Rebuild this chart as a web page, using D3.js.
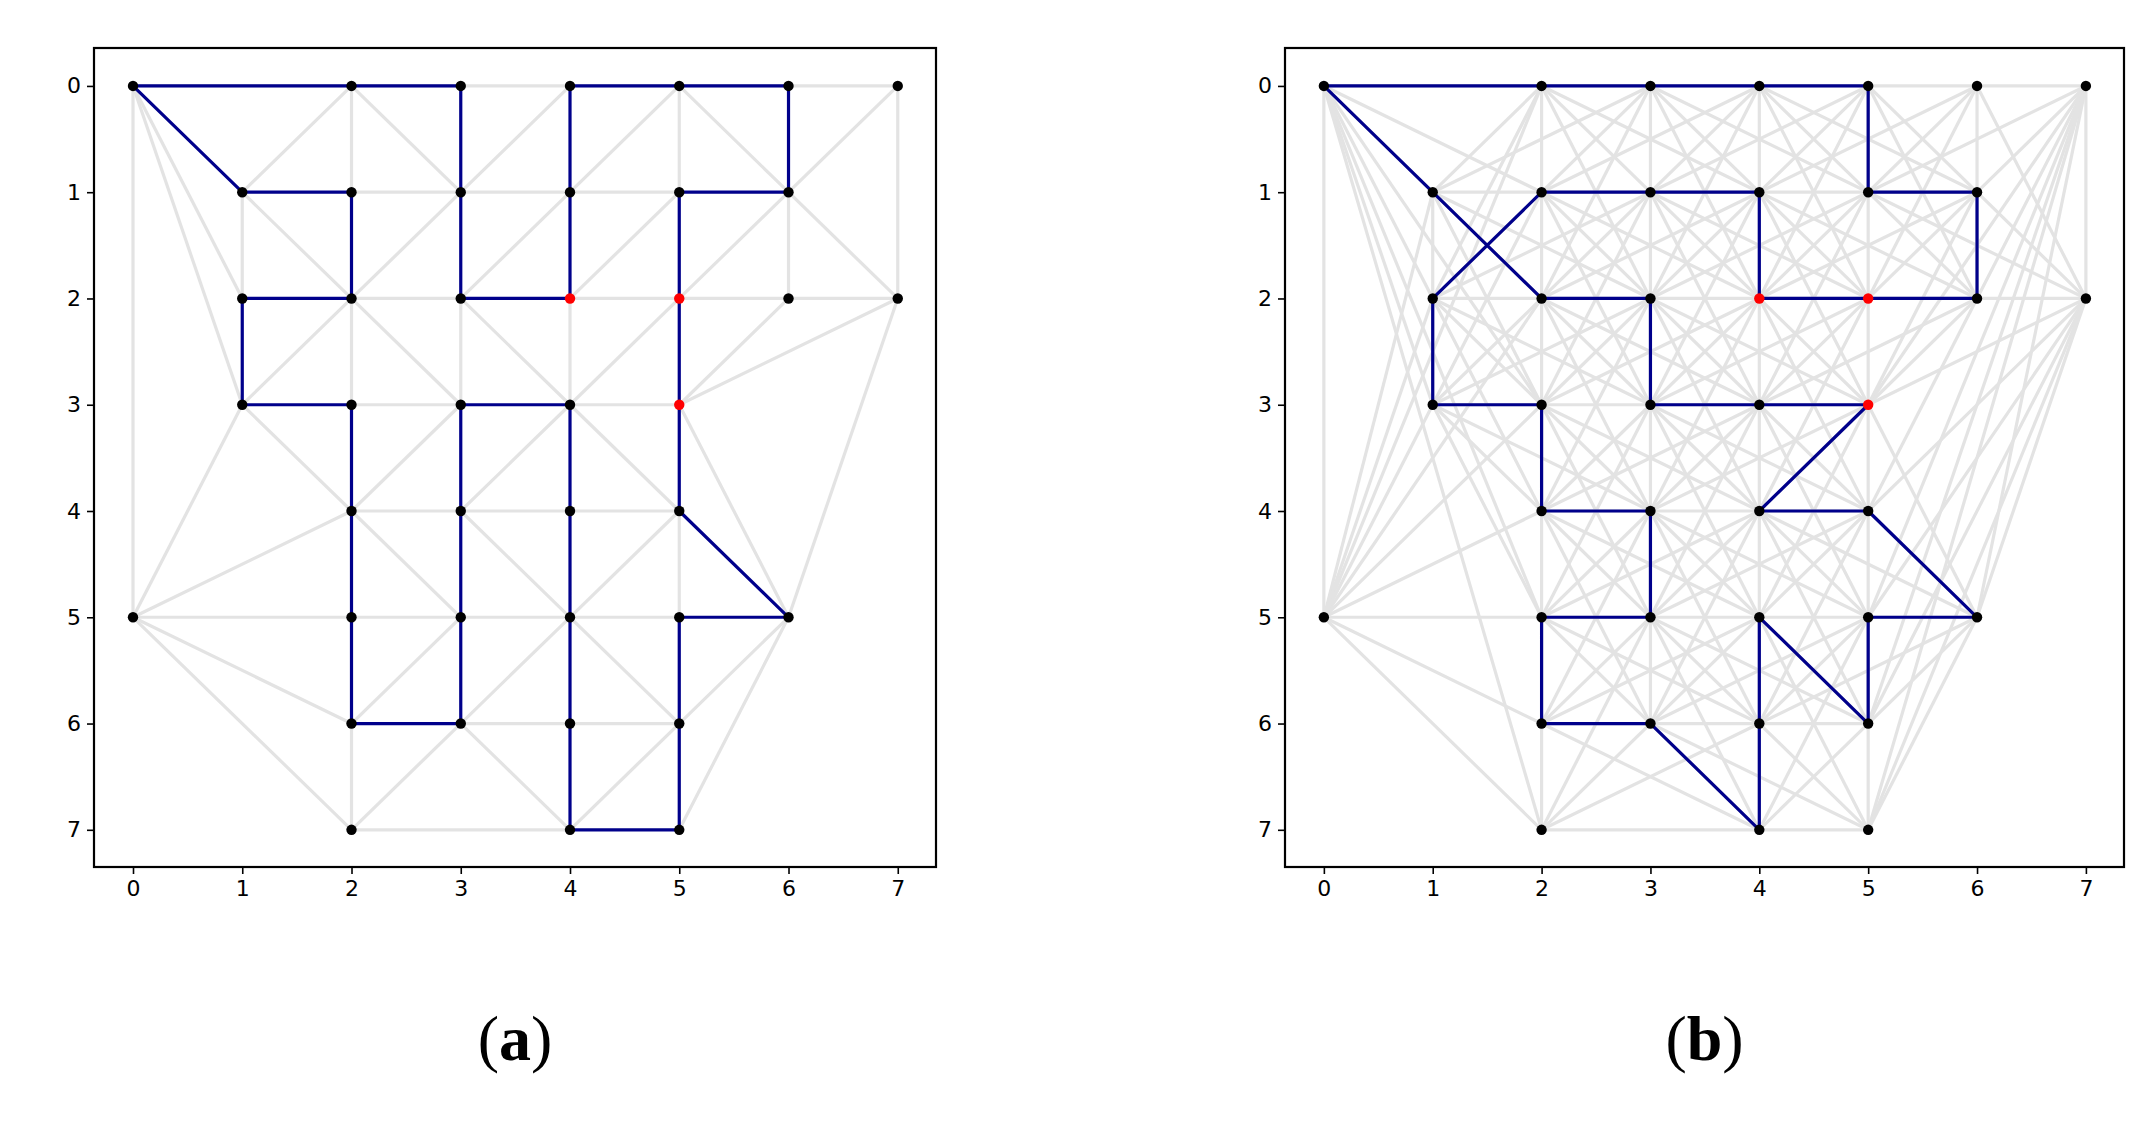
<!DOCTYPE html>
<html><head><meta charset="utf-8">
<script src="https://cdn.jsdelivr.net/npm/d3@7"></script>
<style>body{margin:0;background:#fff}</style></head>
<body><svg id="c" width="2155" height="1144"></svg>
<script>
const nodes = [[0,0],[2,0],[3,0],[4,0],[5,0],[6,0],[7,0],
 [1,1],[2,1],[3,1],[4,1],[5,1],[6,1],
 [1,2],[2,2],[3,2],[4,2],[5,2],[6,2],[7,2],
 [1,3],[2,3],[3,3],[4,3],[5,3],
 [2,4],[3,4],[4,4],[5,4],
 [0,5],[2,5],[3,5],[4,5],[5,5],[6,5],
 [2,6],[3,6],[4,6],[5,6],
 [2,7],[4,7],[5,7]];
const redNodes = [[4,2],[5,2],[5,3]];
const grayA = [
 [[0,0],[2,0]],[[2,0],[3,0]],[[3,0],[4,0]],[[4,0],[5,0]],[[5,0],[6,0]],[[6,0],[7,0]],
 [[0,0],[0,5]],[[0,0],[1,2]],[[0,0],[1,3]],
 [[2,0],[1,1]],[[2,0],[2,1]],[[2,0],[3,1]],[[4,0],[3,1]],[[5,0],[4,1]],[[5,0],[5,1]],[[5,0],[6,1]],
 [[7,0],[6,1]],[[7,0],[7,2]],
 [[1,1],[1,2]],[[1,1],[2,2]],[[2,1],[3,1]],[[3,1],[4,1]],[[4,1],[5,1]],[[3,1],[2,2]],[[4,1],[3,2]],
 [[5,1],[4,2]],[[6,1],[5,2]],[[6,1],[6,2]],[[6,1],[7,2]],
 [[2,2],[3,2]],[[4,2],[5,2]],[[5,2],[6,2]],[[6,2],[7,2]],[[2,2],[1,3]],[[2,2],[2,3]],[[2,2],[3,3]],
 [[3,2],[3,3]],[[3,2],[4,3]],[[4,2],[4,3]],[[5,2],[4,3]],[[6,2],[5,3]],[[7,2],[5,3]],[[7,2],[6,5]],
 [[2,3],[3,3]],[[4,3],[5,3]],[[1,3],[2,4]],[[1,3],[0,5]],[[3,3],[2,4]],[[4,3],[3,4]],[[4,3],[5,4]],[[5,3],[6,5]],
 [[2,4],[3,4]],[[3,4],[4,4]],[[4,4],[5,4]],[[2,4],[0,5]],[[2,4],[3,5]],[[3,4],[4,5]],[[5,4],[4,5]],[[5,4],[5,5]],
 [[0,5],[2,5]],[[2,5],[3,5]],[[3,5],[4,5]],[[4,5],[5,5]],[[0,5],[2,6]],[[0,5],[2,7]],[[3,5],[2,6]],
 [[4,5],[3,6]],[[4,5],[5,6]],[[6,5],[5,6]],[[6,5],[5,7]],
 [[3,6],[4,6]],[[4,6],[5,6]],[[2,6],[2,7]],[[3,6],[2,7]],[[3,6],[4,7]],[[5,6],[4,7]],
 [[2,7],[4,7]]];
const pathA = [[4,2],[3,2],[3,0],[0,0],[1,1],[2,1],[2,2],[1,2],[1,3],[2,3],[2,6],[3,6],[3,3],[4,3],[4,7],[5,7],[5,5],[6,5],[5,4],[5,1],[6,1],[6,0],[4,0],[4,2]];
const pathB = [[0,0],[5,0],[5,1],[6,1],[6,2],[5,2],[4,2],[4,1],[2,1],[1,2],[1,3],[2,3],[2,4],[3,4],[3,5],[2,5],[2,6],[3,6],[4,7],[4,5],[5,6],[5,5],[6,5],[5,4],[4,4],[5,3],[3,3],[3,2],[2,2],[1,1],[0,0]];
const ticks = [0,1,2,3,4,5,6,7];

// panel b gray graph: near neighbours (boundary columns reach further), skipping segments blocked by a node
function grayB(){
  const key = new Set(nodes.map(n=>n+''));
  const out=[];
  for(let i=0;i<nodes.length;i++)for(let j=i+1;j<nodes.length;j++){
    const a=nodes[i],b=nodes[j],dx=Math.abs(a[0]-b[0]),dy=Math.abs(a[1]-b[1]);
    const edge=[0,7].includes(a[0])||[0,7].includes(b[0]);
    if(dx>2) { if(!(edge&&dx<=2)) continue; }
    if(dy>2&&!edge) continue;
    let blocked=false;
    for(const n of nodes){ if(n===a||n===b)continue;
      const cr=(b[0]-a[0])*(n[1]-a[1])-(b[1]-a[1])*(n[0]-a[0]);
      if(cr===0 && n[0]>=Math.min(a[0],b[0])&&n[0]<=Math.max(a[0],b[0])&&n[1]>=Math.min(a[1],b[1])&&n[1]<=Math.max(a[1],b[1])) {blocked=true;break;}
    }
    if(!blocked) out.push([a,b]);
  }
  return out;
}

const svg=d3.select("#c");
function panel(x0,x1,gray,path,label){
  const top=48,bot=867;
  const x=d3.scaleLinear().domain([-0.357,7.35]).range([x0,x1]);
  const y=d3.scaleLinear().domain([-0.357,7.35]).range([top,bot]);
  const g=svg.append("g");
  g.selectAll(".g").data(gray).enter().append("line")
   .attr("x1",d=>x(d[0][0])).attr("y1",d=>y(d[0][1])).attr("x2",d=>x(d[1][0])).attr("y2",d=>y(d[1][1]))
   .attr("stroke","#e3e3e3").attr("stroke-width",3.2);
  g.append("path").attr("d",d3.line().x(d=>x(d[0])).y(d=>y(d[1]))(path))
   .attr("fill","none").attr("stroke","#00008b").attr("stroke-width",3.2).attr("stroke-linejoin","round");
  g.selectAll(".n").data(nodes).enter().append("circle")
   .attr("cx",d=>x(d[0])).attr("cy",d=>y(d[1])).attr("r",5.2)
   .attr("fill",d=>redNodes.some(r=>r[0]===d[0]&&r[1]===d[1])?"#ff0000":"#000");
  g.append("rect").attr("x",x0).attr("y",top).attr("width",x1-x0).attr("height",bot-top)
   .attr("fill","none").attr("stroke","#000").attr("stroke-width",2.2);
  const xa=d3.axisBottom(x).tickValues(ticks).tickSize(7).tickPadding(6);
  const ya=d3.axisLeft(y).tickValues(ticks).tickSize(7).tickPadding(6);
  const gx=g.append("g").attr("transform",`translate(0,${bot})`).call(xa);
  const gy=g.append("g").attr("transform",`translate(${x0},0)`).call(ya);
  [gx,gy].forEach(a=>{a.select(".domain").remove();
    a.selectAll("line").attr("stroke-width",1.6);
    a.selectAll("text").attr("font-family","DejaVu Sans").attr("font-size",22).attr("fill","#000");});
  const t=g.append("text").attr("x",(x0+x1)/2).attr("y",1060).attr("text-anchor","middle")
   .attr("font-family","Liberation Serif").attr("font-size",64);
  t.append("tspan").text("(");
  t.append("tspan").attr("font-weight","bold").text(label);
  t.append("tspan").text(")");
}
panel(94,936,grayA,pathA,"a");
panel(1285,2124,grayB(),pathB,"b");
</script></body></html>
